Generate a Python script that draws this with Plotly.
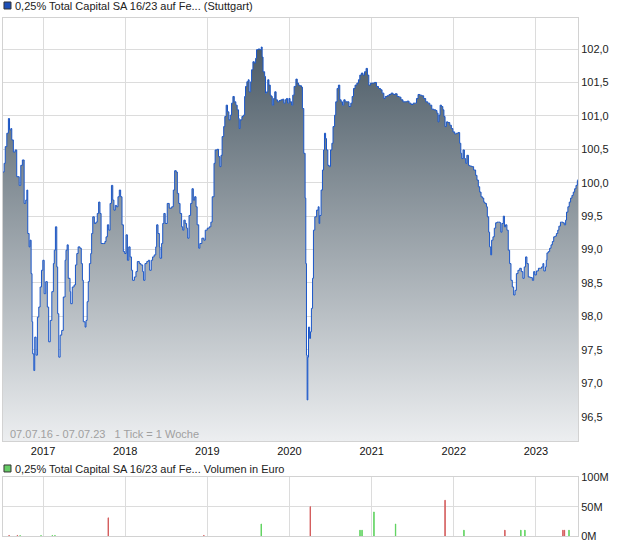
import plotly.graph_objects as go

# ---------------- data ----------------
dates = [
 "2016-07-07","2016-07-12","2016-07-17","2016-07-24","2016-07-31","2016-08-05","2016-08-11","2016-08-15",
 "2016-08-22","2016-08-30","2016-09-06","2016-09-17","2016-09-24","2016-10-01","2016-10-09","2016-10-16",
 "2016-10-21","2016-10-25","2016-10-31","2016-11-04","2016-11-09","2016-11-13","2016-11-16","2016-11-21",
 "2016-11-25","2016-12-01","2016-12-07","2016-12-13","2016-12-19","2016-12-25","2016-12-31",
 "2017-01-06","2017-01-13","2017-01-20","2017-01-26","2017-02-02","2017-02-09","2017-02-16","2017-02-20",
 "2017-02-25","2017-03-03","2017-03-07","2017-03-12","2017-03-18","2017-03-25","2017-04-01","2017-04-09",
 "2017-04-13","2017-04-18","2017-04-23","2017-05-01","2017-05-04","2017-05-11","2017-05-19","2017-05-25",
 "2017-05-31","2017-06-06","2017-06-14","2017-06-20","2017-06-25","2017-06-29","2017-07-07","2017-07-11",
 "2017-07-16","2017-07-21","2017-07-26","2017-08-01","2017-08-05","2017-08-10","2017-08-17","2017-08-24",
 "2017-08-30","2017-09-05","2017-09-11","2017-09-16","2017-09-26","2017-10-03","2017-10-08","2017-10-14",
 "2017-10-20","2017-10-26","2017-11-01","2017-11-07","2017-11-12","2017-11-18","2017-11-24","2017-11-30",
 "2017-12-06","2017-12-12","2017-12-18","2017-12-24","2017-12-30",
 "2018-01-05","2018-01-11","2018-01-17","2018-01-23","2018-01-29","2018-02-03","2018-02-11","2018-02-18",
 "2018-02-24","2018-03-05","2018-03-12","2018-03-20","2018-03-24","2018-03-30","2018-04-07","2018-04-14",
 "2018-04-20","2018-04-27","2018-05-03","2018-05-10","2018-05-17","2018-05-21","2018-05-27","2018-06-02",
 "2018-06-05","2018-06-12","2018-06-17","2018-06-22","2018-06-28","2018-07-07","2018-07-16","2018-07-27",
 "2018-08-03","2018-08-09","2018-08-16","2018-08-21","2018-08-27","2018-09-02","2018-09-09","2018-09-14",
 "2018-09-19","2018-09-25","2018-10-01","2018-10-06","2018-10-12","2018-10-19","2018-10-25","2018-10-31",
 "2018-11-06","2018-11-12","2018-11-17","2018-11-24","2018-11-29","2018-12-08","2018-12-17","2018-12-23",
 "2019-01-01","2019-01-10","2019-01-17","2019-01-23","2019-01-31","2019-02-05","2019-02-14","2019-02-20",
 "2019-02-26","2019-03-03","2019-03-08","2019-03-15","2019-03-20","2019-03-26","2019-04-01","2019-04-07",
 "2019-04-13","2019-04-19","2019-04-25","2019-05-01","2019-05-08","2019-05-14","2019-05-20","2019-05-23",
 "2019-05-27","2019-06-04","2019-06-10","2019-06-16","2019-06-20","2019-06-26","2019-07-02","2019-07-06",
 "2019-07-13","2019-07-17","2019-07-23","2019-07-29","2019-08-04","2019-08-08","2019-08-15","2019-08-23",
 "2019-08-29","2019-09-02","2019-09-06","2019-09-13","2019-09-17","2019-09-22","2019-09-27","2019-10-02",
 "2019-10-08","2019-10-12","2019-10-17","2019-10-23","2019-10-28","2019-11-03","2019-11-09","2019-11-16",
 "2019-11-24","2019-12-02","2019-12-07","2019-12-13","2019-12-19","2019-12-24","2019-12-30",
 "2020-01-04","2020-01-11","2020-01-16","2020-01-22","2020-01-30","2020-02-05","2020-02-11","2020-02-16",
 "2020-02-24","2020-02-28","2020-03-05","2020-03-11","2020-03-14","2020-03-17","2020-03-20","2020-03-23",
 "2020-03-26","2020-03-31","2020-04-04","2020-04-08","2020-04-13","2020-04-17","2020-04-23","2020-05-01",
 "2020-05-08","2020-05-12","2020-05-15","2020-05-21","2020-05-27","2020-06-01","2020-06-05","2020-06-10",
 "2020-06-14","2020-06-20","2020-06-26","2020-07-02","2020-07-08","2020-07-13","2020-07-20","2020-07-25",
 "2020-07-31","2020-08-06","2020-08-12","2020-08-18","2020-08-24","2020-08-30","2020-09-05","2020-09-14",
 "2020-09-22","2020-09-30","2020-10-06","2020-10-12","2020-10-19","2020-10-27","2020-11-03","2020-11-09",
 "2020-11-16","2020-11-23","2020-11-30","2020-12-07","2020-12-13","2020-12-19","2020-12-27",
 "2021-01-04","2021-01-13","2021-01-22","2021-01-31","2021-02-09","2021-02-16","2021-02-24","2021-03-02",
 "2021-03-10","2021-03-19","2021-03-28","2021-04-06","2021-04-15","2021-04-24","2021-05-03","2021-05-11",
 "2021-05-20","2021-05-29","2021-06-07","2021-06-16","2021-06-25","2021-07-04","2021-07-13","2021-07-19",
 "2021-07-26","2021-08-03","2021-08-11","2021-08-20","2021-08-29","2021-09-07","2021-09-16","2021-09-25",
 "2021-10-04","2021-10-13","2021-10-18","2021-10-23","2021-10-27","2021-11-01","2021-11-07","2021-11-13",
 "2021-11-18","2021-11-23","2021-11-29","2021-12-06","2021-12-14","2021-12-21","2021-12-28",
 "2022-01-05","2022-01-12","2022-01-20","2022-01-27","2022-02-01","2022-02-05","2022-02-11","2022-02-17",
 "2022-02-23","2022-02-28","2022-03-07","2022-03-12","2022-03-21","2022-03-30","2022-04-08","2022-04-14",
 "2022-04-20","2022-04-26","2022-05-02","2022-05-08","2022-05-14","2022-05-19","2022-05-26","2022-05-30",
 "2022-06-05","2022-06-09","2022-06-14","2022-06-18","2022-06-24","2022-06-30","2022-07-06","2022-07-12",
 "2022-07-19","2022-07-25","2022-07-29","2022-08-03","2022-08-09","2022-08-14","2022-08-19","2022-08-25",
 "2022-08-31","2022-09-06","2022-09-12","2022-09-18","2022-09-24","2022-09-30","2022-10-06","2022-10-13",
 "2022-10-21","2022-10-28","2022-11-04","2022-11-10","2022-11-16","2022-11-22","2022-11-28","2022-12-07",
 "2022-12-16","2022-12-22","2022-12-27",
 "2023-01-03","2023-01-12","2023-01-20","2023-01-26","2023-02-01","2023-02-05","2023-02-12","2023-02-16",
 "2023-02-19","2023-02-25","2023-03-03","2023-03-09","2023-03-15","2023-03-21","2023-03-27","2023-04-02",
 "2023-04-08","2023-04-13","2023-04-20","2023-04-25","2023-05-01","2023-05-07","2023-05-13","2023-05-17",
 "2023-05-23","2023-05-29","2023-06-04","2023-06-10","2023-06-16","2023-06-22","2023-06-28","2023-07-04",
 "2023-07-07",
]
prices = [
 100.16,100.29,100.54,100.74,100.96,100.79,100.81,100.64,
 100.46,100.49,100.09,99.96,100.26,100.34,99.69,99.74,
 99.89,99.24,99.04,99.14,98.64,97.92,97.44,97.19,
 97.69,97.42,97.99,98.14,98.44,98.69,98.84,
 98.34,98.52,98.14,97.62,97.94,98.37,98.79,98.99,
 99.34,98.74,98.04,97.39,97.72,97.79,98.29,98.84,
 98.99,99.07,98.57,98.37,98.19,98.44,98.47,98.77,
 98.94,99.04,99.02,98.79,98.54,97.92,97.84,97.94,
 98.22,98.52,98.79,98.94,99.24,99.49,99.39,99.41,
 99.54,99.71,99.54,99.09,99.09,99.12,99.19,99.37,
 99.29,99.69,99.96,99.74,99.59,99.66,99.64,99.79,
 99.89,99.79,99.37,98.97,98.94,
 99.22,98.84,99.04,98.89,98.69,98.54,98.59,98.67,
 98.82,98.79,98.77,98.67,98.54,98.79,98.82,98.84,
 98.69,98.84,98.89,98.92,99.04,99.37,99.24,99.04,
 98.87,99.09,99.39,99.54,99.39,99.69,99.62,99.64,
 99.89,100.18,100.16,99.84,99.69,99.54,99.34,99.29,
 99.44,99.39,99.32,99.17,99.51,99.69,99.91,99.74,
 99.79,99.64,99.37,99.02,99.09,99.17,99.14,99.29,
 99.32,99.34,99.41,99.79,100.29,100.49,100.50,100.39,
 100.24,100.41,100.69,100.84,100.99,101.16,101.06,100.94,
 101.01,101.19,101.29,101.21,101.16,101.09,100.96,100.81,
 100.94,100.99,101.01,101.29,101.44,101.51,101.54,101.36,
 101.51,101.69,101.81,101.79,101.86,101.99,102.00,101.99,
 102.03,101.88,101.66,101.59,101.34,101.36,101.54,101.46,
 101.31,101.29,101.16,101.26,101.36,101.24,101.21,101.23,
 101.24,101.25,101.19,101.24,101.26,101.19,101.26,
 101.21,101.16,101.31,101.44,101.55,101.49,101.46,101.45,
 101.43,101.11,100.44,99.77,98.79,97.42,96.75,97.39,
 97.84,97.67,97.77,98.12,98.57,99.29,99.49,99.59,
 99.64,99.39,99.51,99.89,100.19,100.49,100.74,100.66,
 100.49,100.26,100.24,100.49,100.59,100.84,101.01,101.21,
 101.41,101.46,101.24,101.21,101.16,101.24,101.21,101.21,
 101.14,101.19,101.29,101.41,101.46,101.49,101.54,101.61,
 101.64,101.61,101.66,101.71,101.61,101.46,101.49,
 101.49,101.50,101.44,101.41,101.39,101.34,101.26,101.29,
 101.30,101.32,101.34,101.32,101.33,101.29,101.28,101.24,
 101.21,101.21,101.22,101.19,101.17,101.19,101.19,101.26,
 101.32,101.31,101.30,101.26,101.21,101.19,101.16,101.10,
 101.09,101.08,101.04,100.91,101.01,101.16,101.14,101.09,
 100.99,100.84,100.91,100.90,100.86,100.81,100.76,
 100.73,100.74,100.75,100.59,100.44,100.36,100.49,100.36,
 100.29,100.41,100.26,100.25,100.24,100.19,100.11,100.04,
 99.94,99.86,99.79,99.77,99.71,99.69,99.64,99.49,
 99.26,99.04,98.92,99.14,99.19,99.32,99.40,99.41,
 99.41,99.40,99.26,99.39,99.50,99.34,99.37,99.29,
 98.99,98.79,98.54,98.44,98.32,98.39,98.64,98.69,
 98.72,98.67,98.57,98.74,98.89,98.79,98.59,98.58,
 98.54,98.67,98.62,
 98.68,98.72,98.72,98.74,98.79,98.68,98.74,98.84,
 98.95,98.97,99.02,99.07,99.12,99.19,99.20,99.24,
 99.29,99.35,99.41,99.41,99.40,99.37,99.44,99.56,
 99.64,99.71,99.77,99.81,99.86,99.91,99.96,100.03,
 100.05,
]

vol_dates = [
 "2016-08-03","2016-09-09","2016-09-21","2016-12-23","2017-02-11","2017-02-23","2017-10-18",
 "2018-12-17","2019-08-29","2020-04-03","2020-11-10","2020-11-19","2021-01-11","2021-04-17",
 "2021-11-23","2022-02-15","2022-08-16","2022-10-26","2022-11-13","2023-05-01","2023-05-08","2023-05-28",
]
vol_values = [
 1.0e6, 1.0e6, 0.8e6, 0.8e6, 1.0e6, 1.0e6, 31e6,
 1.0e6, 20.5e6, 50e6, 10e6, 10e6, 41e6, 20.5e6,
 61e6, 10e6, 10e6, 10e6, 10e6, 10e6, 10e6, 10e6,
]
vol_direction = [
 "down","down","up","up","up","up","down",
 "down","up","down","up","up","up","up",
 "down","up","down","up","up","down","down","up",
]

year_ticks = ["2017-01-01","2018-01-01","2019-01-01","2020-01-01","2021-01-01","2022-01-01","2023-01-01"]
year_labels = ["2017","2018","2019","2020","2021","2022","2023"]
price_ticks = [96.5, 97.0, 97.5, 98.0, 98.5, 99.0, 99.5, 100.0, 100.5, 101.0, 101.5, 102.0]
vol_ticks = [0, 50e6, 100e6]
vol_labels = ["0M", "50M", "100M"]

title_main = "0,25% Total Capital SA 16/23 auf Fe... (Stuttgart)"
title_vol = "0,25% Total Capital SA 16/23 auf Fe... Volumen in Euro"
range_note = "07.07.16 - 07.07.23   1 Tick = 1 Woche"

# ---------------- figure ----------------
GRID = "#dcdcdc"
BORDER = "#d2d2d2"
LINE = "#1a56c8"
dir_colors = {"up": "#5fd35f", "down": "#d45d5d"}
bar_colors = [dir_colors[d] for d in vol_direction]

fig = go.Figure()
fig.add_trace(go.Scatter(
    x=dates, y=prices, mode="lines",
    line=dict(color=LINE, width=1.0, shape="hv"),
    fill="tozeroy",
    fillgradient=dict(type="vertical",
                      colorscale=[[0, "#eceef0"], [1, "#4e5d68"]],
                      start=96.14, stop=102.0),
    xaxis="x", yaxis="y", hoverinfo="skip",
))
fig.add_trace(go.Bar(
    x=vol_dates, y=vol_values,
    marker=dict(color=bar_colors, line=dict(width=1, color=bar_colors)),
    width=1.5 * 86400000,
    xaxis="x2", yaxis="y2", hoverinfo="skip",
))

xrange = ["2016-07-07", "2023-07-07"]
common_x = dict(type="date", range=xrange, tickvals=year_ticks, ticktext=year_labels,
                showgrid=True, gridcolor=GRID, gridwidth=1, showline=True, mirror=True,
                linecolor=BORDER, linewidth=1, ticks="", zeroline=False, automargin=False)

fig.update_layout(
    width=620, height=546,
    margin=dict(l=3, r=42, t=18, b=10, autoexpand=False),
    paper_bgcolor="white", plot_bgcolor="white",
    showlegend=False, separators=",.",
    font=dict(family="Arial, Liberation Sans, sans-serif", size=11, color="#222222"),
    bargap=0,
    xaxis=dict(domain=[0, 1], anchor="y", tickfont=dict(size=11, color="#111111"), **common_x),
    xaxis2=dict(domain=[0, 1], anchor="y2", showticklabels=False, **common_x),
    yaxis=dict(domain=[0.1834, 1], anchor="x", range=[96.136, 102.464], side="right",
               tickvals=price_ticks, tickformat=".1f", showgrid=True, gridcolor=GRID,
               showline=True, mirror=True, linecolor=BORDER, ticks="", zeroline=False,
               automargin=False, tickfont=dict(size=11, color="#222222")),
    yaxis2=dict(domain=[0, 0.1133], anchor="x2", range=[0, 100e6], side="right",
                tickvals=vol_ticks, ticktext=vol_labels, showgrid=True, gridcolor=GRID,
                showline=True, mirror=True, linecolor=BORDER, ticks="", zeroline=False,
                automargin=False, tickfont=dict(size=11, color="#222222")),
    shapes=[
        dict(type="rect", xref="paper", yref="paper", x0=0.0017, x1=0.0139, y0=1.0174, y1=1.0309,
             fillcolor="#1d4fb8", line=dict(color="#333333", width=1)),
        dict(type="rect", xref="paper", yref="paper", x0=0.0017, x1=0.0139, y0=0.1236, y1=0.1371,
             fillcolor="#66cc66", line=dict(color="#333333", width=1)),
    ],
    annotations=[
        dict(text=title_main, xref="paper", yref="paper", x=0.0174, y=1.0241,
             xanchor="left", yanchor="middle", showarrow=False,
             font=dict(size=11, color="#222222")),
        dict(text=title_vol, xref="paper", yref="paper", x=0.0174, y=0.1303,
             xanchor="left", yanchor="middle", showarrow=False,
             font=dict(size=11, color="#222222")),
        dict(text=range_note, xref="paper", yref="paper", x=0.0087, y=0.1969,
             xanchor="left", yanchor="middle", showarrow=False,
             font=dict(size=11, color="#a0a0a0")),
    ],
)

fig.write_html("out.html",
               config={"displayModeBar": False, "staticPlot": True},
               post_script="document.body.style.margin='0';document.body.style.overflow='hidden';")
